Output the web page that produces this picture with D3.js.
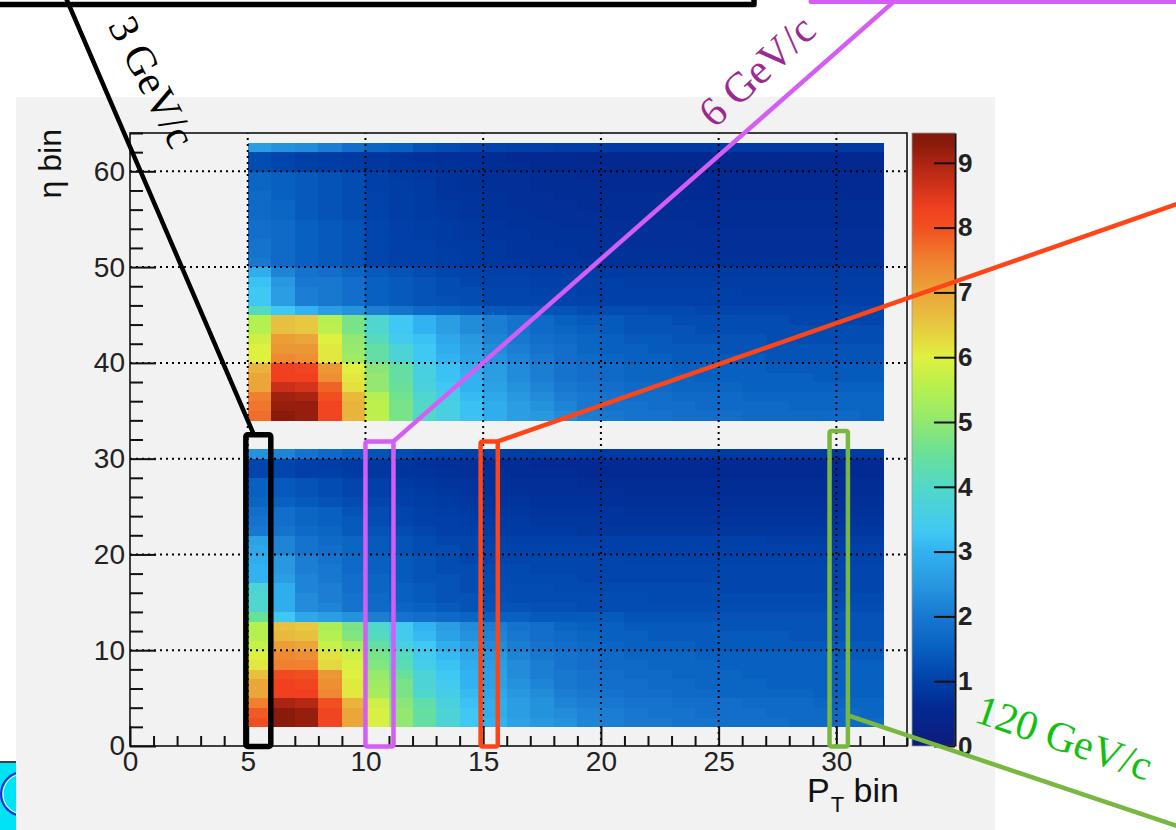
<!DOCTYPE html>
<html>
<head>
<meta charset="utf-8">
<script src="https://cdn.jsdelivr.net/npm/d3@7"></script>
<style>
html, body { margin: 0; padding: 0; background: #ffffff; }
svg { display: block; }
</style>
</head>
<body>
<svg id="chart" width="1176" height="830"></svg>
<script>
// pT bin lower edges (columns) and eta bin lower edges (rows) of the two filled blocks
const ptBins = [5, 6, 7, 8, 9, 10, 11, 12, 13, 14, 15, 16, 17, 18, 19, 20, 21, 22, 23, 24, 25, 26, 27, 28, 29, 30, 31];
const etaBinsLow = [2, 3, 4, 5, 6, 7, 8, 9, 10, 11, 12, 13, 14, 15, 16, 17, 18, 19, 20, 21, 22, 23, 24, 25, 26, 27, 28, 29, 30];
const etaBinsHigh = [34, 35, 36, 37, 38, 39, 40, 41, 42, 43, 44, 45, 46, 47, 48, 49, 50, 51, 52, 53, 54, 55, 56, 57, 58, 59, 60, 61, 62];

// bin contents, one row per eta bin, one value per pT bin
const occupancyLow = [
  [8.0, 9.3, 9.2, 8.2, 7.0, 5.9, 5.0, 4.4, 3.8, 3.3, 3.0, 2.7, 2.5, 2.4, 2.2, 2.1, 2.0, 2.0, 1.9, 1.9, 1.8, 1.8, 1.8, 1.7, 1.7, 1.7, 1.7],
  [7.9, 9.3, 9.2, 8.2, 7.0, 5.9, 5.0, 4.4, 3.8, 3.3, 2.9, 2.6, 2.4, 2.3, 2.2, 2.1, 2.0, 1.9, 1.9, 1.8, 1.8, 1.8, 1.7, 1.7, 1.7, 1.7, 1.6],
  [7.5, 9.0, 8.9, 8.0, 6.8, 5.8, 4.9, 4.3, 3.7, 3.2, 2.9, 2.6, 2.4, 2.2, 2.1, 2.0, 1.9, 1.9, 1.8, 1.8, 1.8, 1.7, 1.7, 1.7, 1.6, 1.6, 1.6],
  [7.0, 8.3, 8.3, 7.4, 6.1, 5.3, 4.7, 3.9, 3.5, 3.1, 2.8, 2.5, 2.3, 2.1, 2.0, 1.9, 1.8, 1.8, 1.7, 1.7, 1.6, 1.6, 1.6, 1.6, 1.5, 1.5, 1.5],
  [7.0, 8.3, 8.2, 7.3, 6.1, 5.2, 4.7, 3.8, 3.4, 3.0, 2.7, 2.4, 2.2, 2.0, 1.9, 1.8, 1.8, 1.7, 1.7, 1.6, 1.6, 1.6, 1.5, 1.5, 1.5, 1.5, 1.5],
  [6.6, 8.1, 8.0, 7.2, 6.0, 5.1, 4.5, 3.8, 3.3, 3.0, 2.7, 2.3, 2.1, 2.0, 1.9, 1.8, 1.7, 1.7, 1.6, 1.6, 1.6, 1.5, 1.5, 1.5, 1.5, 1.5, 1.5],
  [6.1, 7.5, 7.5, 6.3, 5.9, 4.8, 4.2, 3.5, 3.2, 2.9, 2.6, 2.3, 2.1, 1.9, 1.8, 1.7, 1.7, 1.6, 1.6, 1.6, 1.5, 1.5, 1.5, 1.5, 1.5, 1.5, 1.5],
  [6.0, 7.4, 7.3, 6.2, 5.8, 4.7, 4.1, 3.4, 3.1, 2.8, 2.5, 2.2, 2.0, 1.9, 1.8, 1.7, 1.6, 1.6, 1.6, 1.5, 1.5, 1.5, 1.5, 1.5, 1.5, 1.4, 1.4],
  [5.7, 7.1, 7.0, 5.7, 5.3, 4.4, 3.6, 3.3, 2.9, 2.6, 2.3, 2.1, 1.9, 1.8, 1.7, 1.6, 1.5, 1.5, 1.5, 1.4, 1.4, 1.4, 1.4, 1.4, 1.4, 1.4, 1.4],
  [5.5, 6.7, 6.6, 5.5, 4.8, 4.1, 3.4, 3.1, 2.7, 2.4, 2.2, 2.0, 1.8, 1.7, 1.6, 1.5, 1.5, 1.4, 1.4, 1.4, 1.4, 1.4, 1.4, 1.3, 1.3, 1.3, 1.3],
  [5.5, 6.6, 6.5, 5.4, 4.7, 4.0, 3.4, 3.0, 2.6, 2.3, 2.1, 1.9, 1.8, 1.6, 1.5, 1.5, 1.4, 1.4, 1.4, 1.4, 1.3, 1.3, 1.3, 1.3, 1.3, 1.3, 1.3],
  [4.5, 3.3, 2.8, 2.6, 2.4, 2.1, 1.9, 1.8, 1.7, 1.6, 1.5, 1.5, 1.4, 1.4, 1.4, 1.4, 1.3, 1.3, 1.3, 1.3, 1.3, 1.3, 1.3, 1.3, 1.3, 1.3, 1.3],
  [3.9, 2.9, 2.3, 2.2, 1.9, 1.7, 1.6, 1.5, 1.4, 1.3, 1.3, 1.3, 1.25, 1.25, 1.2, 1.2, 1.2, 1.2, 1.2, 1.2, 1.2, 1.2, 1.2, 1.2, 1.2, 1.2, 1.2],
  [3.9, 2.9, 2.3, 2.1, 1.9, 1.7, 1.5, 1.4, 1.3, 1.3, 1.25, 1.2, 1.2, 1.2, 1.2, 1.2, 1.2, 1.15, 1.15, 1.15, 1.15, 1.15, 1.15, 1.15, 1.15, 1.15, 1.15],
  [3.8, 2.9, 2.2, 2.1, 1.8, 1.6, 1.5, 1.4, 1.3, 1.2, 1.2, 1.2, 1.2, 1.15, 1.15, 1.15, 1.15, 1.15, 1.15, 1.15, 1.1, 1.1, 1.1, 1.1, 1.1, 1.1, 1.1],
  [3.0, 2.6, 2.2, 2.0, 1.8, 1.6, 1.4, 1.3, 1.3, 1.2, 1.2, 1.15, 1.15, 1.15, 1.1, 1.1, 1.1, 1.1, 1.1, 1.1, 1.1, 1.1, 1.1, 1.1, 1.1, 1.1, 1.1],
  [3.0, 2.5, 2.1, 2.0, 1.7, 1.5, 1.4, 1.3, 1.2, 1.2, 1.15, 1.15, 1.1, 1.1, 1.1, 1.1, 1.1, 1.1, 1.1, 1.1, 1.1, 1.1, 1.1, 1.1, 1.1, 1.1, 1.1],
  [2.9, 2.5, 2.1, 1.9, 1.7, 1.5, 1.4, 1.3, 1.2, 1.1, 1.1, 1.1, 1.1, 1.1, 1.1, 1.1, 1.05, 1.05, 1.05, 1.05, 1.05, 1.05, 1.05, 1.05, 1.05, 1.05, 1.05],
  [2.8, 2.2, 1.9, 1.8, 1.6, 1.4, 1.3, 1.2, 1.2, 1.1, 1.1, 1.05, 1.05, 1.05, 1.05, 1.0, 1.0, 1.0, 1.0, 1.0, 1.0, 1.0, 1.0, 1.0, 1.0, 1.0, 1.0],
  [2.7, 2.2, 1.9, 1.7, 1.6, 1.4, 1.3, 1.2, 1.1, 1.1, 1.05, 1.0, 1.0, 1.0, 1.0, 1.0, 1.0, 1.0, 1.0, 1.0, 1.0, 1.0, 0.95, 0.95, 0.95, 0.95, 0.95],
  [2.0, 1.9, 1.7, 1.6, 1.4, 1.3, 1.2, 1.1, 1.0, 1.0, 0.95, 0.9, 0.9, 0.9, 0.85, 0.85, 0.85, 0.85, 0.85, 0.85, 0.85, 0.85, 0.85, 0.85, 0.85, 0.85, 0.85],
  [1.9, 1.8, 1.6, 1.5, 1.4, 1.2, 1.1, 1.0, 1.0, 0.95, 0.9, 0.9, 0.85, 0.85, 0.85, 0.8, 0.8, 0.8, 0.8, 0.8, 0.8, 0.8, 0.8, 0.8, 0.8, 0.8, 0.8],
  [1.8, 1.8, 1.6, 1.5, 1.3, 1.2, 1.1, 1.0, 0.95, 0.9, 0.85, 0.85, 0.8, 0.8, 0.8, 0.8, 0.75, 0.75, 0.75, 0.75, 0.75, 0.75, 0.75, 0.75, 0.75, 0.75, 0.75],
  [1.6, 1.5, 1.4, 1.3, 1.2, 1.1, 1.0, 0.95, 0.9, 0.85, 0.8, 0.8, 0.75, 0.75, 0.75, 0.7, 0.7, 0.7, 0.7, 0.7, 0.7, 0.7, 0.7, 0.7, 0.7, 0.7, 0.7],
  [1.5, 1.4, 1.3, 1.2, 1.1, 1.0, 0.95, 0.9, 0.85, 0.8, 0.75, 0.75, 0.7, 0.7, 0.7, 0.7, 0.65, 0.65, 0.65, 0.65, 0.65, 0.65, 0.65, 0.65, 0.65, 0.65, 0.65],
  [1.5, 1.4, 1.3, 1.2, 1.1, 1.0, 0.9, 0.85, 0.8, 0.8, 0.75, 0.7, 0.7, 0.7, 0.65, 0.65, 0.65, 0.65, 0.65, 0.65, 0.65, 0.65, 0.65, 0.65, 0.65, 0.65, 0.65],
  [1.1, 1.1, 1.0, 1.0, 0.9, 0.85, 0.8, 0.8, 0.75, 0.7, 0.7, 0.65, 0.65, 0.65, 0.6, 0.6, 0.6, 0.6, 0.6, 0.6, 0.6, 0.6, 0.6, 0.6, 0.6, 0.6, 0.6],
  [1.1, 1.1, 1.0, 0.95, 0.9, 0.85, 0.8, 0.75, 0.7, 0.7, 0.65, 0.65, 0.6, 0.6, 0.6, 0.6, 0.6, 0.6, 0.6, 0.6, 0.6, 0.6, 0.6, 0.6, 0.6, 0.6, 0.6],
  [2.4, 2.2, 1.9, 1.7, 1.5, 1.3, 1.2, 1.1, 1.05, 1.0, 1.0, 0.95, 0.95, 0.95, 0.9, 0.9, 0.9, 0.9, 0.9, 0.9, 0.9, 0.9, 0.9, 0.9, 0.9, 0.9, 0.9]
];

const occupancyHigh = [
  [7.7, 9.3, 9.2, 8.2, 6.8, 5.6, 4.7, 4.0, 3.6, 3.2, 2.9, 2.6, 2.5, 2.3, 2.1, 2.0, 1.9, 1.9, 1.8, 1.8, 1.8, 1.7, 1.7, 1.7, 1.7, 1.7, 1.6],
  [7.6, 9.2, 9.2, 8.2, 6.8, 5.6, 4.7, 4.0, 3.6, 3.2, 2.9, 2.6, 2.4, 2.2, 2.0, 1.9, 1.9, 1.8, 1.8, 1.7, 1.7, 1.7, 1.7, 1.6, 1.6, 1.6, 1.6],
  [7.5, 9.1, 9.0, 8.0, 6.7, 5.5, 4.6, 3.9, 3.5, 3.1, 2.8, 2.5, 2.3, 2.1, 2.0, 1.9, 1.8, 1.8, 1.7, 1.7, 1.7, 1.6, 1.6, 1.6, 1.6, 1.6, 1.6],
  [7.0, 8.7, 8.6, 7.8, 6.2, 5.0, 4.5, 3.7, 3.3, 3.0, 2.7, 2.4, 2.2, 2.0, 1.9, 1.8, 1.7, 1.7, 1.6, 1.6, 1.6, 1.5, 1.5, 1.5, 1.5, 1.5, 1.5],
  [7.0, 8.3, 8.3, 7.3, 6.1, 5.0, 4.4, 3.6, 3.2, 3.0, 2.6, 2.3, 2.1, 1.9, 1.8, 1.7, 1.6, 1.6, 1.6, 1.5, 1.5, 1.5, 1.5, 1.5, 1.4, 1.4, 1.4],
  [6.8, 8.3, 8.2, 7.2, 6.0, 4.9, 4.4, 3.6, 3.2, 2.9, 2.6, 2.3, 2.1, 1.9, 1.8, 1.7, 1.6, 1.6, 1.5, 1.5, 1.5, 1.5, 1.4, 1.4, 1.4, 1.4, 1.4],
  [6.0, 7.4, 7.3, 6.1, 5.2, 4.4, 3.8, 3.3, 3.0, 2.7, 2.4, 2.2, 2.0, 1.8, 1.7, 1.6, 1.5, 1.5, 1.4, 1.4, 1.4, 1.4, 1.3, 1.3, 1.3, 1.3, 1.3],
  [6.0, 7.2, 7.2, 6.1, 5.1, 4.4, 3.8, 3.3, 2.9, 2.6, 2.3, 2.1, 1.9, 1.8, 1.6, 1.5, 1.5, 1.4, 1.4, 1.4, 1.3, 1.3, 1.3, 1.3, 1.3, 1.3, 1.3],
  [5.8, 7.1, 7.0, 6.0, 5.0, 4.1, 3.4, 3.2, 2.8, 2.5, 2.2, 2.0, 1.8, 1.7, 1.6, 1.5, 1.4, 1.4, 1.3, 1.3, 1.3, 1.3, 1.2, 1.2, 1.2, 1.2, 1.2],
  [5.5, 6.6, 6.5, 5.6, 4.7, 3.9, 3.3, 3.0, 2.6, 2.3, 2.1, 1.9, 1.7, 1.6, 1.5, 1.4, 1.3, 1.3, 1.3, 1.2, 1.2, 1.2, 1.2, 1.2, 1.2, 1.2, 1.2],
  [5.5, 6.6, 6.5, 5.5, 4.7, 3.9, 3.3, 3.0, 2.6, 2.3, 2.1, 1.9, 1.7, 1.5, 1.4, 1.4, 1.3, 1.3, 1.2, 1.2, 1.2, 1.2, 1.2, 1.1, 1.1, 1.1, 1.1],
  [4.1, 3.3, 3.0, 2.6, 2.4, 2.1, 1.9, 1.7, 1.6, 1.5, 1.4, 1.35, 1.3, 1.3, 1.2, 1.2, 1.2, 1.15, 1.15, 1.1, 1.1, 1.1, 1.1, 1.1, 1.1, 1.1, 1.1],
  [3.3, 2.6, 2.1, 2.0, 1.8, 1.5, 1.4, 1.3, 1.25, 1.2, 1.1, 1.1, 1.1, 1.05, 1.05, 1.0, 1.0, 1.0, 1.0, 1.0, 1.0, 1.0, 1.0, 1.0, 1.0, 1.0, 1.0],
  [3.3, 2.6, 2.1, 2.0, 1.8, 1.5, 1.4, 1.3, 1.2, 1.2, 1.1, 1.1, 1.05, 1.05, 1.0, 1.0, 1.0, 1.0, 1.0, 1.0, 1.0, 0.95, 0.95, 0.95, 0.95, 0.95, 0.95],
  [3.2, 2.5, 2.0, 2.0, 1.8, 1.5, 1.4, 1.3, 1.2, 1.1, 1.05, 1.05, 1.0, 1.0, 1.0, 1.0, 0.95, 0.95, 0.95, 0.95, 0.95, 0.95, 0.95, 0.95, 0.95, 0.95, 0.95],
  [2.9, 2.2, 1.9, 1.8, 1.6, 1.4, 1.3, 1.2, 1.1, 1.05, 1.0, 1.0, 0.95, 0.95, 0.95, 0.9, 0.9, 0.9, 0.9, 0.9, 0.9, 0.9, 0.9, 0.9, 0.9, 0.9, 0.9],
  [2.0, 1.7, 1.5, 1.4, 1.3, 1.1, 1.0, 1.0, 0.95, 0.9, 0.85, 0.85, 0.8, 0.8, 0.8, 0.75, 0.75, 0.75, 0.75, 0.75, 0.75, 0.75, 0.75, 0.75, 0.75, 0.75, 0.75],
  [1.9, 1.7, 1.5, 1.4, 1.3, 1.1, 1.0, 1.0, 0.95, 0.9, 0.85, 0.8, 0.8, 0.8, 0.75, 0.75, 0.75, 0.75, 0.75, 0.7, 0.7, 0.7, 0.7, 0.7, 0.7, 0.7, 0.7],
  [1.9, 1.7, 1.5, 1.4, 1.3, 1.1, 1.0, 1.0, 0.9, 0.9, 0.85, 0.8, 0.8, 0.75, 0.75, 0.75, 0.7, 0.7, 0.7, 0.7, 0.7, 0.7, 0.7, 0.7, 0.7, 0.7, 0.7],
  [1.8, 1.7, 1.5, 1.4, 1.3, 1.1, 1.0, 0.95, 0.9, 0.85, 0.8, 0.8, 0.75, 0.75, 0.75, 0.7, 0.7, 0.7, 0.7, 0.7, 0.7, 0.7, 0.7, 0.7, 0.7, 0.7, 0.7],
  [1.8, 1.7, 1.5, 1.4, 1.3, 1.1, 1.0, 0.95, 0.9, 0.85, 0.8, 0.75, 0.75, 0.7, 0.7, 0.7, 0.7, 0.7, 0.7, 0.65, 0.65, 0.65, 0.65, 0.65, 0.65, 0.65, 0.65],
  [1.7, 1.6, 1.4, 1.3, 1.2, 1.05, 0.95, 0.9, 0.85, 0.8, 0.75, 0.75, 0.7, 0.7, 0.7, 0.65, 0.65, 0.65, 0.65, 0.65, 0.65, 0.65, 0.65, 0.65, 0.65, 0.65, 0.65],
  [1.7, 1.6, 1.4, 1.3, 1.2, 1.05, 0.95, 0.9, 0.85, 0.8, 0.75, 0.7, 0.7, 0.7, 0.65, 0.65, 0.65, 0.65, 0.65, 0.65, 0.65, 0.65, 0.65, 0.65, 0.65, 0.65, 0.65],
  [1.7, 1.5, 1.4, 1.3, 1.2, 1.05, 0.95, 0.9, 0.8, 0.8, 0.75, 0.7, 0.7, 0.65, 0.65, 0.65, 0.65, 0.65, 0.6, 0.6, 0.6, 0.6, 0.6, 0.6, 0.6, 0.6, 0.6],
  [1.6, 1.5, 1.4, 1.3, 1.2, 1.0, 0.95, 0.9, 0.8, 0.75, 0.7, 0.7, 0.65, 0.65, 0.65, 0.6, 0.6, 0.6, 0.6, 0.6, 0.6, 0.6, 0.6, 0.6, 0.6, 0.6, 0.6],
  [1.6, 1.5, 1.4, 1.3, 1.2, 1.0, 0.9, 0.85, 0.8, 0.75, 0.7, 0.7, 0.65, 0.65, 0.6, 0.6, 0.6, 0.6, 0.6, 0.6, 0.6, 0.6, 0.6, 0.6, 0.6, 0.6, 0.6],
  [1.2, 1.1, 1.0, 0.95, 0.9, 0.85, 0.8, 0.8, 0.75, 0.7, 0.65, 0.65, 0.6, 0.6, 0.6, 0.55, 0.55, 0.55, 0.55, 0.55, 0.55, 0.55, 0.55, 0.55, 0.55, 0.55, 0.55],
  [1.2, 1.1, 1.0, 0.95, 0.9, 0.85, 0.8, 0.75, 0.7, 0.7, 0.65, 0.6, 0.6, 0.6, 0.55, 0.55, 0.55, 0.55, 0.55, 0.55, 0.55, 0.55, 0.55, 0.55, 0.55, 0.55, 0.55],
  [2.6, 2.4, 2.3, 2.1, 1.8, 1.6, 1.5, 1.3, 1.2, 1.1, 1.05, 1.0, 1.0, 0.95, 0.95, 0.9, 0.9, 0.9, 0.9, 0.9, 0.9, 0.9, 0.9, 0.9, 0.9, 0.9, 0.9]
];

const xTickValues = [0, 5, 10, 15, 20, 25, 30];
const yTickValues = [0, 10, 20, 30, 40, 50, 60];
const zTickValues = [0, 1, 2, 3, 4, 5, 6, 7, 8, 9];
const zMax = 9.46;

// highlighted pT slices and their labels
const sliceLabels = ["3 GeV/c", "6 GeV/c", "", "120 GeV/c"];

// ---- layout / style (not data) ----
const W = 1176, H = 830;
const frame = { left: 130, right: 907, top: 133, bottom: 746 };
const bar = { left: 912, right: 955 };
const sansFont = "'Liberation Sans', Arial, Helvetica, sans-serif";
const serifFont = "'Liberation Serif', 'Times New Roman', serif";

const paletteStops  = [0, 0.6, 1.0, 1.5, 2.0, 2.5, 3.0, 3.3, 4.0, 4.5, 5.0, 5.5, 6.0, 6.6, 7.0, 7.5, 8.0, 8.3, 8.8, 9.3, 9.46];
const paletteColors = ["#101a7c", "#022a92", "#0040a8", "#0860c0", "#1878d0", "#2898e0", "#32b2f0", "#40c8f4",
                       "#52d8c8", "#68e098", "#92e870", "#b4f050", "#e0f040", "#e8c040", "#eaa638", "#f08030",
                       "#f05020", "#f04020", "#c02c16", "#8a1a0a", "#801a0c"];

const svg = d3.select("#chart");

const x = d3.scaleLinear().domain([0, 33]).range([frame.left, frame.right]);
const y = d3.scaleLinear().domain([0, 64]).range([frame.bottom, frame.top]);
const z = d3.scaleLinear().domain([0, zMax]).range([frame.bottom, frame.top]);
const color = d3.scaleLinear().domain(paletteStops).range(paletteColors).clamp(true);

// white page, little leftover piece of another figure at bottom left
svg.append("rect").attr("width", W).attr("height", H).attr("fill", "#ffffff");
svg.append("rect").attr("x", 0).attr("y", 763).attr("width", 16).attr("height", 67).attr("fill", "#00e2f6");
svg.append("line").attr("x1", 0).attr("x2", 16).attr("y1", 762).attr("y2", 762)
    .attr("stroke", "#000").attr("stroke-width", 1.5);
svg.append("circle").attr("cx", 23).attr("cy", 794).attr("r", 22)
    .attr("fill", "none").attr("stroke", "#1a2ad0").attr("stroke-width", 2);
svg.append("circle").attr("cx", 23).attr("cy", 794).attr("r", 20)
    .attr("fill", "none").attr("stroke", "#ffffff").attr("stroke-width", 1);

// ROOT pad
svg.append("rect").attr("x", 16).attr("y", 97).attr("width", 979).attr("height", H - 97).attr("fill", "#f2f2f2");

// heat map cells
const cells = [];
[[etaBinsLow, occupancyLow], [etaBinsHigh, occupancyHigh]].forEach(([etas, rows]) => {
    etas.forEach((eta, i) => {
        ptBins.forEach((pt, j) => cells.push({ pt: pt, eta: eta, v: rows[i][j] }));
    });
});

svg.append("g").selectAll("rect")
    .data(cells)
    .enter()
    .append("rect")
    .attr("x", d => x(d.pt))
    .attr("y", d => y(d.eta + 1))
    .attr("width", d => x(d.pt + 1) - x(d.pt) + 0.3)
    .attr("height", d => y(d.eta) - y(d.eta + 1) + 0.3)
    .attr("fill", d => color(d.v))
    .attr("shape-rendering", "crispEdges");

// dotted grid
const grid = svg.append("g")
    .attr("stroke", "#000")
    .attr("stroke-width", 2)
    .attr("stroke-dasharray", "2,4");
grid.selectAll(".gx").data(xTickValues.filter(v => v > 0)).enter().append("line")
    .attr("x1", d => x(d)).attr("x2", d => x(d))
    .attr("y1", frame.bottom).attr("y2", frame.top);
grid.selectAll(".gy").data(yTickValues.filter(v => v > 0)).enter().append("line")
    .attr("y1", d => y(d)).attr("y2", d => y(d))
    .attr("x1", frame.left).attr("x2", frame.right);

// frame
svg.append("rect")
    .attr("x", frame.left).attr("y", frame.top)
    .attr("width", frame.right - frame.left).attr("height", frame.bottom - frame.top)
    .attr("fill", "none").attr("stroke", "#111").attr("stroke-width", 1.6);

function styleAxis(g, size) {
    g.select(".domain").remove();
    g.selectAll(".tick line").attr("stroke", "#111").attr("stroke-width", 2);
    g.selectAll(".tick text")
        .attr("font-family", sansFont)
        .attr("font-size", size)
        .attr("fill", "#222");
}

// x axis: ticks point up into the frame
const xMajor = svg.append("g").attr("transform", `translate(0,${frame.bottom})`)
    .call(d3.axisBottom(x).tickValues(xTickValues).tickFormat(d3.format("d"))
        .tickSizeInner(-20).tickSizeOuter(0).tickPadding(5));
styleAxis(xMajor, 28);
svg.append("g").attr("transform", `translate(0,${frame.bottom})`)
    .call(d3.axisBottom(x).tickValues(d3.range(0, 34).filter(v => v % 5 !== 0))
        .tickFormat("").tickSizeInner(-10).tickSizeOuter(0))
    .call(g => styleAxis(g, 0));

// y axis: ticks point right into the frame
const yMajor = svg.append("g").attr("transform", `translate(${frame.left},0)`)
    .call(d3.axisLeft(y).tickValues(yTickValues).tickFormat(d3.format("d"))
        .tickSizeInner(-26).tickSizeOuter(0).tickPadding(5));
styleAxis(yMajor, 28);
svg.append("g").attr("transform", `translate(${frame.left},0)`)
    .call(d3.axisLeft(y).tickValues(d3.range(0, 65, 2).filter(v => v % 10 !== 0))
        .tickFormat("").tickSizeInner(-13).tickSizeOuter(0))
    .call(g => styleAxis(g, 0));

// axis titles
svg.append("text")
    .attr("transform", `translate(61,${frame.top - 4}) rotate(-90)`)
    .attr("text-anchor", "end")
    .attr("font-family", sansFont).attr("font-size", 32).attr("fill", "#111")
    .text("\u03b7 bin");

const xt = svg.append("text")
    .attr("x", 807).attr("y", 802)
    .attr("font-family", sansFont).attr("font-size", 34).attr("fill", "#111");
xt.append("tspan").text("P");
xt.append("tspan").attr("font-size", 22).attr("dy", 10).attr("dx", 1).text("T");
xt.append("tspan").attr("dy", -10).text(" bin");

// colour bar
const defs = svg.append("defs");
const grad = defs.append("linearGradient").attr("id", "palette")
    .attr("x1", 0).attr("y1", 1).attr("x2", 0).attr("y2", 0);
paletteStops.forEach((s, i) => {
    grad.append("stop").attr("offset", s / zMax).attr("stop-color", paletteColors[i]);
});
svg.append("rect")
    .attr("x", bar.left).attr("y", z(zMax))
    .attr("width", bar.right - bar.left).attr("height", z(0) - z(zMax))
    .attr("fill", "url(#palette)")
    .attr("stroke", "#9a9a9a").attr("stroke-width", 0.8);

const zAxis = svg.append("g").attr("transform", `translate(${bar.right},0)`)
    .call(d3.axisRight(z).tickValues(zTickValues).tickFormat(d3.format("d"))
        .tickSizeInner(-21).tickSizeOuter(0).tickPadding(3));
zAxis.select(".domain").attr("stroke", "#111").attr("stroke-width", 2);
zAxis.selectAll(".tick line").attr("stroke", "#111").attr("stroke-width", 2);
zAxis.selectAll(".tick text")
    .attr("font-family", sansFont).attr("font-size", 26).attr("font-weight", "bold").attr("fill", "#222");

// ---- hand drawn annotations on top ----
const sliceBoxes = [
    { pt0: 4.92, pt1: 5.98, etaTop: 32.5, stroke: "#000000", width: 5.5 },
    { pt0: 10.0, pt1: 11.19, etaTop: 31.8, stroke: "#d45ef4", width: 4.5 },
    { pt0: 14.89, pt1: 15.62, etaTop: 31.8, stroke: "#ff4418", width: 4.5 },
    { pt0: 29.71, pt1: 30.49, etaTop: 32.9, stroke: "#78b840", width: 4.5 }
];
const ann = svg.append("g").attr("fill", "none").attr("stroke-linejoin", "round").attr("stroke-linecap", "round");

// black and magenta frames of the neighbouring panels along the top edge
ann.append("path").attr("d", "M-6,4.5 H754 V-12").attr("stroke", "#000").attr("stroke-width", 5.5);
ann.append("path").attr("d", "M811,1.5 H1190").attr("stroke", "#d45ef4").attr("stroke-width", 5);

// connector lines
const bx = sliceBoxes.map(b => ({ l: x(b.pt0), r: x(b.pt1), t: y(b.etaTop), b: y(-0.05) }));
ann.append("line").attr("x1", 66).attr("y1", -2).attr("x2", bx[0].l + 8).attr("y2", bx[0].t)
    .attr("stroke", "#000").attr("stroke-width", 4.5);
ann.append("line").attr("x1", 898).attr("y1", -2).attr("x2", bx[1].r).attr("y2", bx[1].t)
    .attr("stroke", "#d45ef4").attr("stroke-width", 4.5);
ann.append("line").attr("x1", 1180).attr("y1", 203).attr("x2", bx[2].r).attr("y2", bx[2].t)
    .attr("stroke", "#ff4418").attr("stroke-width", 4.5);
ann.append("line").attr("x1", bx[3].r).attr("y1", y(3.2)).attr("x2", 1180).attr("y2", 827)
    .attr("stroke", "#78b840").attr("stroke-width", 4.5);

// boxes around the slices
ann.selectAll(".box").data(sliceBoxes).enter().append("rect")
    .attr("x", (d, i) => bx[i].l).attr("y", (d, i) => bx[i].t)
    .attr("width", (d, i) => bx[i].r - bx[i].l)
    .attr("height", (d, i) => bx[i].b - bx[i].t)
    .attr("rx", 2)
    .attr("stroke", d => d.stroke)
    .attr("stroke-width", d => d.width);

// slice labels
const labelPlacement = [
    { cx: 152, cy: 82, angle: 63, fill: "#000000" },
    { cx: 757, cy: 71, angle: -43, fill: "#9a2a90" },
    null,
    { cx: 1064, cy: 738, angle: 19, fill: "#12c012" }
];
sliceLabels.forEach((t, i) => {
    const p = labelPlacement[i];
    if (!t || !p) return;
    svg.append("text")
        .attr("transform", `translate(${p.cx},${p.cy}) rotate(${p.angle})`)
        .attr("text-anchor", "middle")
        .attr("dy", "0.33em")
        .attr("font-family", serifFont)
        .attr("font-size", 42)
        .attr("fill", p.fill)
        .text(t);
});
</script>
</body>
</html>
